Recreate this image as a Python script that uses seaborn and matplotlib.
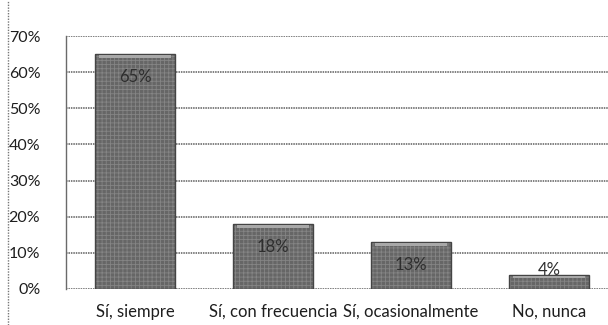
import matplotlib
matplotlib.use("Agg")
import matplotlib.pyplot as plt
import seaborn as sns
import pandas as pd
from matplotlib.lines import Line2D

categories = ["Sí, siempre", "Sí, con frecuencia", "Sí, ocasionalmente", "No, nunca"]
values = [65, 18, 13, 4]
yticks = [0, 10, 20, 30, 40, 50, 60, 70]
ytick_labels = ["0%", "10%", "20%", "30%", "40%", "50%", "60%", "70%"]

sns.set_style("white")
plt.rcParams["font.family"] = ["Lato", "DejaVu Sans"]
plt.rcParams["hatch.linewidth"] = 0.6

df = pd.DataFrame({"categoria": categories, "valor": values})

fig = plt.figure(figsize=(6.08, 3.25), dpi=100)
ax = fig.add_axes([66 / 608, 36 / 325, 552 / 608, 253 / 325])

sns.barplot(data=df, x="categoria", y="valor", ax=ax, color="#666666",
            width=0.58, saturation=1, zorder=3)
for p in ax.patches:
    p.set_hatch("++++")
    p.set_edgecolor("#858585")
    p.set_linewidth(0)

# darker outline over the textured fill
for p in list(ax.patches):
    ax.add_patch(plt.Rectangle((p.get_x(), p.get_y()), p.get_width(), p.get_height(),
                               fill=False, edgecolor="#444444", linewidth=1.0, zorder=4))

# light band along the top of each bar
for i, v in enumerate(values):
    ax.bar(i, 0.7, bottom=v - 1.0, width=0.52, color="#a8a8a8", zorder=5, linewidth=0)

for i, v in enumerate(values):
    if v > 8:
        ax.text(i, v - 6.3, f"{v}%", ha="center", va="center", fontsize=12,
                color="#2e2e2e", zorder=6)
    else:
        ax.text(i, v + 1.3, f"{v}%", ha="center", va="center", fontsize=12,
                color="#2e2e2e", zorder=6)

ax.set_xlim(-0.5, 3.5)
ax.set_ylim(0, 70)
ax.set_yticks(yticks)
ax.set_yticklabels(ytick_labels)
ax.set_xlabel("")
ax.set_ylabel("")
ax.tick_params(axis="both", length=0, labelsize=12, colors="#1e1e1e")
ax.tick_params(axis="y", pad=18.5, labelsize=11.5)
ax.tick_params(axis="x", pad=10.5)

ax.yaxis.grid(True, color="#5e5e5e", linestyle=(0, (1, 0.6)), linewidth=1.1, zorder=0)
ax.set_axisbelow(True)
for side in ["top", "right", "bottom"]:
    ax.spines[side].set_visible(False)
ax.spines["left"].set_color("#6a6a6a")
ax.spines["left"].set_linewidth(1.0)

fig.add_artist(Line2D([8 / 608, 8 / 608], [0, 1], transform=fig.transFigure,
                      color="#777777", linestyle=(0, (1, 1)), linewidth=1.0))

fig.savefig("out.png", dpi=100)
